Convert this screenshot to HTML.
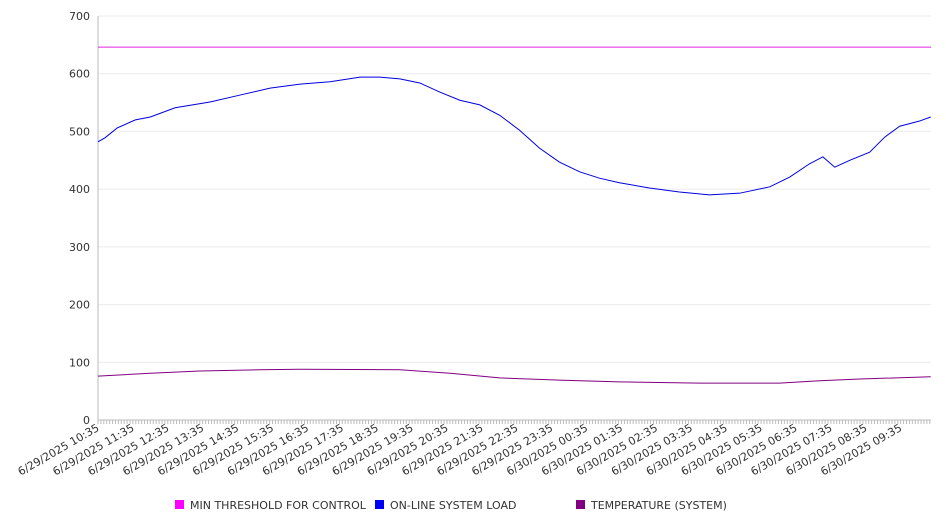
<!DOCTYPE html>
<html><head><meta charset="utf-8"><style>
body{margin:0;background:#fff;font-family:"DejaVu Sans","Liberation Sans",sans-serif;}
svg text{font-family:"DejaVu Sans","Liberation Sans",sans-serif;font-size:11px;fill:#333;}
</style></head><body>
<svg id="chart" width="946" height="526"></svg>
<script>
const yTicks=[0,100,200,300,400,500,600,700];
const xLabels=["6/29/2025 10:35","6/29/2025 11:35","6/29/2025 12:35","6/29/2025 13:35","6/29/2025 14:35","6/29/2025 15:35","6/29/2025 16:35","6/29/2025 17:35","6/29/2025 18:35","6/29/2025 19:35","6/29/2025 20:35","6/29/2025 21:35","6/29/2025 22:35","6/29/2025 23:35","6/30/2025 00:35","6/30/2025 01:35","6/30/2025 02:35","6/30/2025 03:35","6/30/2025 04:35","6/30/2025 05:35","6/30/2025 06:35","6/30/2025 07:35","6/30/2025 08:35","6/30/2025 09:35"];
const loadHours=[0,0.2,0.55,1.07,1.5,2.21,3.21,4.07,4.93,5.79,6.65,7.51,8.08,8.65,9.22,9.8,10.37,10.94,11.51,12.08,12.65,13.22,13.8,14.37,14.94,15.8,16.66,17.52,18.39,19.25,19.82,20.39,20.77,21.11,21.54,22.11,22.54,22.97,23.54,23.86];
const loadValues=[482,489,506,520,525,541,551,563,575,582,586,594,594,591,584,568,554,546,528,502,471,447,430,419,411,402,395,390,393,404,421,444,456,438,450,464,490,509,518,525];
const tempHours=[0,1.5,2.92,4.64,5.79,8.65,10.09,11.51,13.22,14.94,17.23,19.53,20.68,21.83,23.86];
const tempValues=[76,81,85,87,88,87,81,73,69,66,64,64,68,71,75];
const threshold=646;
const X0=98,X1=931,Y0=420,Y1=16,HW=34.9;
const svg=document.getElementById('chart');const NS='http://www.w3.org/2000/svg';
const xs=h=>X0+h*HW, ys=v=>Y0-(v/700)*(Y0-Y1);
function mk(t,a,p){const e=document.createElementNS(NS,t);for(const k in a)e.setAttribute(k,a[k]);(p||svg).appendChild(e);return e;}
yTicks.forEach(v=>{
 const g=mk('line',{x1:X0,x2:X1,y1:ys(v),y2:ys(v),stroke:v===0?'#bbb':'#ebebeb'});
 
 
 const t=mk('text',{x:90,y:ys(v)+4,'text-anchor':'end'});t.textContent=v;
 
 
});
const ax=mk('line',{x1:X0,x2:X0,y1:Y1,y2:Y0,stroke:'#bbb'});


for(let i=0;i<=287;i++){const x=xs(i/12);if(x>X1)break;const tk=mk('line',{x1:x,x2:x,y1:Y0,y2:Y0+4,stroke:'#bbb'});
 
 }
xLabels.forEach((l,i)=>{const x=xs(i)+2;const t=mk('text',{x:x,y:Y0+10,'text-anchor':'end',transform:`rotate(-30 ${x} ${Y0+10})`});t.textContent=l;
 
 });
const th=mk('line',{x1:X0,x2:X1,y1:ys(threshold),y2:ys(threshold),stroke:'#e020e0','stroke-width':1});


const lp=mk('polyline',{points:loadHours.map((h,i)=>xs(h)+','+ys(loadValues[i])).join(' '),fill:'none',stroke:'#0000e0','stroke-width':1});


const tp=mk('polyline',{points:tempHours.map((h,i)=>xs(h)+','+ys(tempValues[i])).join(' '),fill:'none',stroke:'#800080','stroke-width':1});


const leg=[['#ff00ff','MIN THRESHOLD FOR CONTROL',175],['#0000ff','ON-LINE SYSTEM LOAD',375],['#800080','TEMPERATURE (SYSTEM)',576]];
leg.forEach(([c,n,x])=>{const g=mk('g',{});
 
 
 mk('rect',{x:x,y:500,width:9,height:9,fill:c},g);
 const t=mk('text',{x:x+15,y:509},g);t.textContent=n;});
</script>
</body></html>
